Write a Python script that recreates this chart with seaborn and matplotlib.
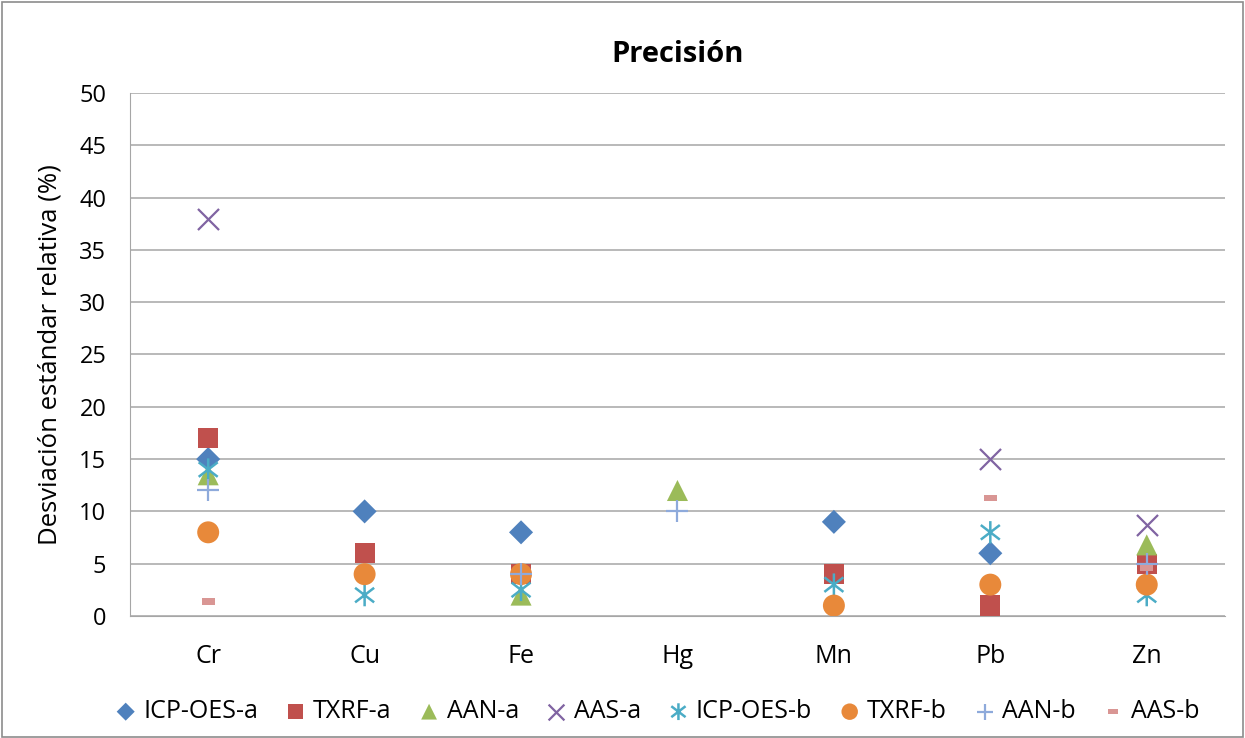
import numpy as np
import pandas as pd
import matplotlib
matplotlib.use("Agg")
import matplotlib.pyplot as plt
from matplotlib.path import Path
from matplotlib.patches import Rectangle
import seaborn as sns

elements = ["Cr", "Cu", "Fe", "Hg", "Mn", "Pb", "Zn"]

icp_oes_a = {"Cr": 15, "Cu": 10, "Fe": 8, "Mn": 9, "Pb": 6}
txrf_a = {"Cr": 17, "Cu": 6, "Fe": 4, "Mn": 4, "Pb": 1, "Zn": 5}
aan_a = {"Cr": 13.5, "Fe": 2, "Hg": 12, "Zn": 6.8}
aas_a = {"Cr": 38, "Pb": 15, "Zn": 8.7}
icp_oes_b = {"Cr": 14, "Cu": 2, "Fe": 2.5, "Mn": 3, "Pb": 8, "Zn": 2}
txrf_b = {"Cr": 8, "Cu": 4, "Fe": 4, "Mn": 1, "Pb": 3, "Zn": 3}
aan_b = {"Cr": 12, "Fe": 4, "Hg": 10, "Zn": 5}
aas_b = {"Cr": 1.4, "Pb": 11.3, "Zn": 4.6}

series_names = ["ICP-OES-a", "TXRF-a", "AAN-a", "AAS-a",
                "ICP-OES-b", "TXRF-b", "AAN-b", "AAS-b"]
series_data = [icp_oes_a, txrf_a, aan_a, aas_a, icp_oes_b, txrf_b, aan_b, aas_b]
colors = ["#4F81BD", "#C0504D", "#9BBB59", "#8064A2",
          "#4BACC6", "#E8893A", "#8EAADB", "#D99694"]

asterisk = Path([(0, -1), (0, 1), (-0.85, -0.65), (0.85, 0.65),
                 (-0.85, 0.65), (0.85, -0.65)],
                [Path.MOVETO, Path.LINETO, Path.MOVETO, Path.LINETO,
                 Path.MOVETO, Path.LINETO])
dash = [(-1, -0.5), (1, -0.5), (1, 0.5), (-1, 0.5), (-1, -0.5)]
markers = ["D", "s", "^", "x", asterisk, "o", "+", dash]
sizes = [150, 210, 230, 230, 260, 250, 230, 90]
kind = ["fill", "fill", "fill", "line", "path", "fill", "line", "fill"]

plt.rcParams["font.family"] = ["Open Sans", "DejaVu Sans"]

fig = plt.figure(figsize=(12.45, 7.38), dpi=100)
ax = fig.add_axes([0.1044, 0.1653, 0.8795, 0.7087])
ax.xaxis.update_units(np.array(elements))

for name, data, col, mk, sz, kd in zip(series_names, series_data, colors,
                                        markers, sizes, kind):
    df = pd.DataFrame({"Elemento": list(data.keys()),
                       "RSD": list(data.values())})
    kw = dict(marker=mk, s=sz, label=name, ax=ax, zorder=3)
    if kd == "fill":
        kw.update(color=col, edgecolor="none")
    elif kd == "line":
        kw.update(color=col, linewidth=1.6)
    else:
        kw.update(edgecolor=col, facecolor="none", linewidth=1.8)
    sns.scatterplot(data=df, x="Elemento", y="RSD", **kw)

ax.set_xlim(-0.5, len(elements) - 0.5)
ax.set_ylim(0, 50)
ax.set_yticks(np.arange(0, 51, 5))
ax.grid(axis="y", color="#A6A6A6", linewidth=1.1, zorder=0)
ax.set_axisbelow(True)
for s in ["top", "right"]:
    ax.spines[s].set_visible(False)
ax.spines["left"].set_color("#A6A6A6")
ax.spines["bottom"].set_color("#A6A6A6")
ax.tick_params(axis="x", length=0, pad=20, labelsize=18)
ax.tick_params(axis="y", length=0, pad=17, labelsize=17)
ax.set_xlabel("")
ax.set_ylabel("Desviación estándar relativa (%)", fontsize=18.5, labelpad=12)
ax.set_title("Precisión", fontsize=21, fontweight="bold", pad=22)

ax.legend(loc="upper center", bbox_to_anchor=(0.48, -0.14), ncol=8,
          frameon=False, fontsize=18, handletextpad=0.15, columnspacing=0.95,
          markerscale=0.75, borderaxespad=0, handlelength=1.1)

fig.patches.append(Rectangle((0.002, 0.002), 0.996, 0.995,
                             transform=fig.transFigure, fill=False,
                             edgecolor="#8C8C8C", linewidth=1.2))

fig.savefig("out.png", dpi=100)
